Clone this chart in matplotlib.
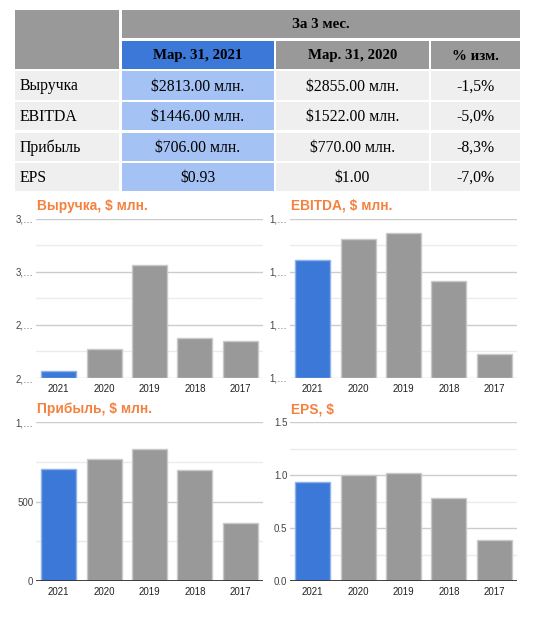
import numpy as np
import matplotlib.pyplot as plt
from matplotlib.patches import Rectangle
from matplotlib.ticker import FixedLocator, FuncFormatter

# table data
col_headers = ["Мар. 31, 2021", "Мар. 31, 2020", "% изм."]
period_header = "За 3 мес."
row_labels = ["Выручка", "EBITDA", "Прибыль", "EPS"]
cur_values = ["$2813.00 млн.", "$1446.00 млн.", "$706.00 млн.", "$0.93"]
prev_values = ["$2855.00 млн.", "$1522.00 млн.", "$770.00 млн.", "$1.00"]
pct_change = ["-1,5%", "-5,0%", "-8,3%", "-7,0%"]

# chart data
years = ["2021", "2020", "2019", "2018", "2017"]
revenue = [2813, 2855, 3013, 2875, 2870]
ebitda = [1446, 1522, 1547, 1366, 1091]
profit = [706, 770, 833, 695, 363]
eps = [0.93, 1.00, 1.015, 0.78, 0.385]

W, H = 535, 620
BLUE = "#3c78d8"
LIGHT_BLUE = "#a4c2f4"
GRAY = "#999999"
LIGHT_GRAY = "#efefef"
ORANGE = "#f5813f"

fig = plt.figure(figsize=(W / 100, H / 100), dpi=100)

# overlay axes in pixel coordinates for the table and titles
ov = fig.add_axes([0, 0, 1, 1], zorder=0)
ov.set_xlim(0, W)
ov.set_ylim(H, 0)
ov.axis("off")
ov.patch.set_visible(False)

cols = [(15, 119), (122, 274), (276, 429), (431, 520)]
hdr1 = (10, 38)
hdr2 = (41, 69)
rows = [(71, 100), (102, 130), (133, 161), (163, 191)]


def cell(x0, x1, y0, y1, color):
    ov.add_patch(Rectangle((x0, y0), x1 - x0, y1 - y0, facecolor=color,
                           edgecolor="none"))


serif = "Liberation Serif"
body = 11.3
cell(cols[0][0], cols[0][1], hdr1[0], hdr2[1], GRAY)
cell(cols[1][0], cols[3][1], hdr1[0], hdr1[1], GRAY)
ov.text((cols[1][0] + cols[3][1]) / 2, sum(hdr1) / 2 + 1, period_header,
        ha="center", va="center", family=serif, fontweight="bold", fontsize=10.8)
for j, h in enumerate(col_headers):
    c = cols[j + 1]
    cell(c[0], c[1], hdr2[0], hdr2[1], BLUE if j == 0 else GRAY)
    ov.text(sum(c) / 2, sum(hdr2) / 2 + 1, h, ha="center", va="center",
            family=serif, fontweight="bold", fontsize=10.7)

for i, r in enumerate(rows):
    cell(cols[0][0], cols[0][1], r[0], r[1], LIGHT_GRAY)
    cell(cols[1][0], cols[1][1], r[0], r[1], LIGHT_BLUE)
    cell(cols[2][0], cols[2][1], r[0], r[1], LIGHT_GRAY)
    cell(cols[3][0], cols[3][1], r[0], r[1], LIGHT_GRAY)
    yc = sum(r) / 2 + 1
    ov.text(cols[0][0] + 5, yc, row_labels[i], ha="left", va="center",
            family=serif, fontsize=body)
    ov.text(sum(cols[1]) / 2, yc, cur_values[i], ha="center", va="center",
            family=serif, fontsize=body)
    ov.text(sum(cols[2]) / 2, yc, prev_values[i], ha="center", va="center",
            family=serif, fontsize=body)
    ov.text(sum(cols[3]) / 2, yc, pct_change[i], ha="center", va="center",
            family=serif, fontsize=body)


def make_formatter(decimals):
    def short_label(v, pos=None):
        s = f"{v:,.{decimals}f}"
        if len(s) > 3:
            s = s[:2] + "…"
        return s
    return FuncFormatter(short_label)


def bar_chart(px, title, values, ymin, ymax, step, zero_base, decimals):
    x0, y0, x1, y1 = px
    ax = fig.add_axes([x0 / W, 1 - y1 / H, (x1 - x0) / W, (y1 - y0) / H],
                      zorder=1)
    ax.patch.set_visible(False)
    x = np.arange(len(values))
    colors = [BLUE] + [GRAY] * (len(values) - 1)
    edges = ["#8fb1ea"] + ["#c9c9c9"] * (len(values) - 1)
    ax.bar(x, np.array(values) - ymin, bottom=ymin, width=0.77,
           color=colors, edgecolor=edges, linewidth=1, zorder=3)
    ax.set_xlim(-0.5, len(values) - 0.5)
    ax.set_ylim(ymin, ymax)
    major = np.arange(ymin, ymax + step / 2, step)
    minor = major[:-1] + step / 2
    for v in minor:
        ax.axhline(v, color="#ebebeb", lw=1, zorder=1)
    for v in major:
        ax.axhline(v, color="#cccccc", lw=1, zorder=1)
    if zero_base:
        ax.axhline(ymin, color="#333333", lw=1.3, zorder=4)
    ax.yaxis.set_major_locator(FixedLocator(major))
    ax.yaxis.set_major_formatter(make_formatter(decimals))
    ax.set_xticks(x)
    ax.set_xticklabels(years)
    ax.tick_params(axis="y", length=0, pad=2, labelsize=7, labelcolor="#444444")
    ax.tick_params(axis="x", length=0, pad=4, labelsize=7, labelcolor="#222222")
    for lab in ax.get_xticklabels() + ax.get_yticklabels():
        lab.set_family("Liberation Sans")
    for s in ax.spines.values():
        s.set_visible(False)
    ov.text(x0 + 1, y0 - 13, title, ha="left", va="center",
            family="Liberation Sans", fontweight="bold", fontsize=9.9,
            color=ORANGE)
    return ax


bar_chart((36, 218.6, 263, 378), "Выручка, $ млн.", revenue, 2800, 3100, 100, False, 0)
bar_chart((290, 218.6, 517, 378), "EBITDA, $ млн.", ebitda, 1000, 1600, 200, False, 0)
bar_chart((36, 422, 263, 581), "Прибыль, $ млн.", profit, 0, 1000, 500, True, 0)
bar_chart((290, 422, 517, 581), "EPS, $", eps, 0, 1.5, 0.5, True, 1)

fig.savefig("out.png", dpi=100)
